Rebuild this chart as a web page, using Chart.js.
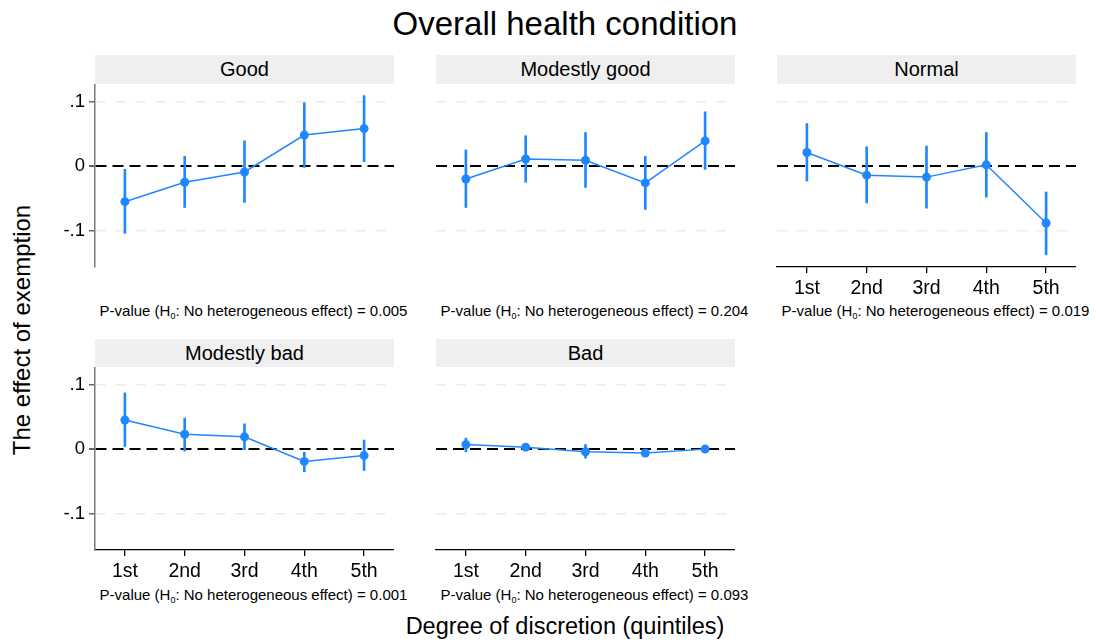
<!DOCTYPE html>
<html><head><meta charset="utf-8">
<script src="https://cdn.jsdelivr.net/npm/chart.js@4.4.1/dist/chart.umd.min.js"></script>
<style>
body{margin:0;background:#fff;font-family:"Liberation Sans",Arial,Helvetica,sans-serif;color:#000;}
#wrap{position:relative;width:1096px;height:642px;overflow:hidden;background:#fff;}
canvas{position:absolute;}
.txt{position:absolute;text-align:center;white-space:nowrap;}
.strip{position:absolute;background:#efefef;text-align:center;font-size:20px;}
sub{font-size:9px;vertical-align:-3px;line-height:0;}
</style></head><body><div id="wrap"></div>
<script>
// ---- data ----
const categories = ['1st','2nd','3rd','4th','5th'];
const panelNames = ['Good','Modestly good','Normal','Modestly bad','Bad'];

const goodEst = [-0.055,-0.025,-0.009,0.048,0.058];
const goodLo  = [-0.104,-0.064,-0.056,-0.002,0.007];
const goodHi  = [-0.005,0.015,0.039,0.098,0.109];

const modGoodEst = [-0.020,0.011,0.009,-0.026,0.039];
const modGoodLo  = [-0.064,-0.025,-0.033,-0.067,-0.005];
const modGoodHi  = [0.025,0.047,0.052,0.015,0.084];

const normalEst = [0.021,-0.014,-0.017,0.002,-0.088];
const normalLo  = [-0.023,-0.057,-0.065,-0.048,-0.137];
const normalHi  = [0.066,0.030,0.031,0.052,-0.040];

const modBadEst = [0.045,0.023,0.019,-0.019,-0.010];
const modBadLo  = [0.004,-0.003,-0.001,-0.035,-0.033];
const modBadHi  = [0.087,0.048,0.039,-0.005,0.014];

const badEst = [0.007,0.003,-0.004,-0.006,0.000];
const badLo  = [-0.004,-0.001,-0.014,-0.009,-0.002];
const badHi  = [0.017,0.007,0.007,-0.003,0.002];

const pValues = ['0.005','0.204','0.019','0.001','0.093'];
const yTickValues = [-0.1,0,0.1];
const yTickLabels = ['-.1','0','.1'];

const chartTitle = 'Overall health condition';
const yTitle = 'The effect of exemption';
const xTitle = 'Degree of discretion (quintiles)';

// ---- layout ----
const BLUE = '#1f87ff';
const FONT = '"Liberation Sans", Arial, sans-serif';
const series = [
  {est:goodEst, lo:goodLo, hi:goodHi},
  {est:modGoodEst, lo:modGoodLo, hi:modGoodHi},
  {est:normalEst, lo:normalLo, hi:normalHi},
  {est:modBadEst, lo:modBadLo, hi:modBadHi},
  {est:badEst, lo:badLo, hi:badHi}
];
const PW = 299, PH = 183, YW = 55, XH = 40;
const layoutCfg = [
  {left:95,  top:84,  stripTop:55,  stripH:29, pY:311, showY:true,  showX:false},
  {left:436, top:84,  stripTop:55,  stripH:29, pY:311, showY:false, showX:false},
  {left:777, top:84,  stripTop:55,  stripH:29, pY:311, showY:false, showX:true},
  {left:95,  top:367, stripTop:339, stripH:28, pY:595, showY:true,  showX:true},
  {left:436, top:367, stripTop:339, stripH:28, pY:595, showY:false, showX:true}
];

const wrap = document.getElementById('wrap');
function addDiv(cls, css, html){
  const d = document.createElement('div');
  d.className = cls; d.style.cssText = css; d.innerHTML = html;
  wrap.appendChild(d); return d;
}

// titles
addDiv('txt', 'left:365px;top:4px;width:400px;height:40px;line-height:40px;font-size:33px;', chartTitle);
addDiv('txt', 'left:-178px;top:315px;width:400px;height:30px;line-height:30px;font-size:24px;transform:rotate(-90deg);', yTitle);
addDiv('txt', 'left:365px;top:611px;width:400px;height:30px;line-height:30px;font-size:23.5px;', xTitle);

layoutCfg.forEach((L, i) => {
  addDiv('strip', `left:${L.left}px;top:${L.stripTop}px;width:${PW}px;height:${L.stripH}px;line-height:${L.stripH}px;`, panelNames[i]);
  addDiv('txt', `left:${L.left + PW/2 + 9 - 200}px;top:${L.pY - 10}px;width:400px;height:20px;line-height:20px;font-size:15px;`,
    'P-value (H<sub>0</sub>: No heterogeneous effect) = ' + pValues[i]);

  const cv = document.createElement('canvas');
  cv.width = YW + PW; cv.height = PH + XH;
  cv.style.left = (L.left - YW) + 'px'; cv.style.top = L.top + 'px';
  cv.style.width = cv.width + 'px'; cv.style.height = cv.height + 'px';
  wrap.appendChild(cv);

  const s = series[i];
  new Chart(cv, {
    type: 'bar',
    data: {
      labels: categories,
      datasets: [
        {type:'line', data:s.est, borderColor:BLUE, borderWidth:1.5, pointRadius:4.5, pointHoverRadius:4.5,
         pointBackgroundColor:BLUE, pointBorderWidth:0, order:0, tension:0},
        {type:'bar', data:s.lo.map((l,k)=>[l, s.hi[k]]), backgroundColor:BLUE, borderWidth:0,
         barThickness:2, order:1}
      ]
    },
    options: {
      responsive:false, animation:false, devicePixelRatio:1, events:[],
      layout:{padding:0, autoPadding:false},
      plugins:{legend:{display:false}, tooltip:{enabled:false}, title:{display:false}},
      scales:{
        x:{
          type:'category', offset:true,
          grid:{offset:false, drawOnChartArea:false, drawTicks:L.showX, tickLength:6, tickColor:'#000', lineWidth:1.3},
          border:{display:L.showX, color:'#000', width:1.3},
          ticks:{display:L.showX, color:'#000', font:{size:19.5, family:FONT}, padding:4, maxRotation:0, autoSkip:false},
          afterFit(sc){ sc.height = XH; sc.paddingLeft = 0; sc.paddingRight = 0; }
        },
        y:{
          min:-0.156, max:0.127,
          afterBuildTicks(sc){ sc.ticks = yTickValues.map(v => ({value:v})); },
          ticks:{display:L.showY, color:'#000', padding:4, font:{size:18.5, family:FONT},
                 callback:(v)=> yTickLabels[yTickValues.indexOf(v)]},
          grid:{
            color:(c)=> (c.tick && c.tick.value === 0) ? '#000' : '#ebebeb',
            lineWidth:(c)=> (c.tick && c.tick.value === 0) ? 2 : 1.5,
            tickColor: L.showY ? '#666' : 'rgba(0,0,0,0)', tickLength:6, drawTicks:true
          },
          border:{display:L.showY, color:'#777', width:1.5,
                  dash:(c)=> (c.tick && c.tick.value === 0) ? [11,6] : [10,10]},
          afterFit(sc){ sc.width = YW; sc.paddingTop = 0; sc.paddingBottom = 0; }
        }
      }
    }
  });
});
</script></body></html>
